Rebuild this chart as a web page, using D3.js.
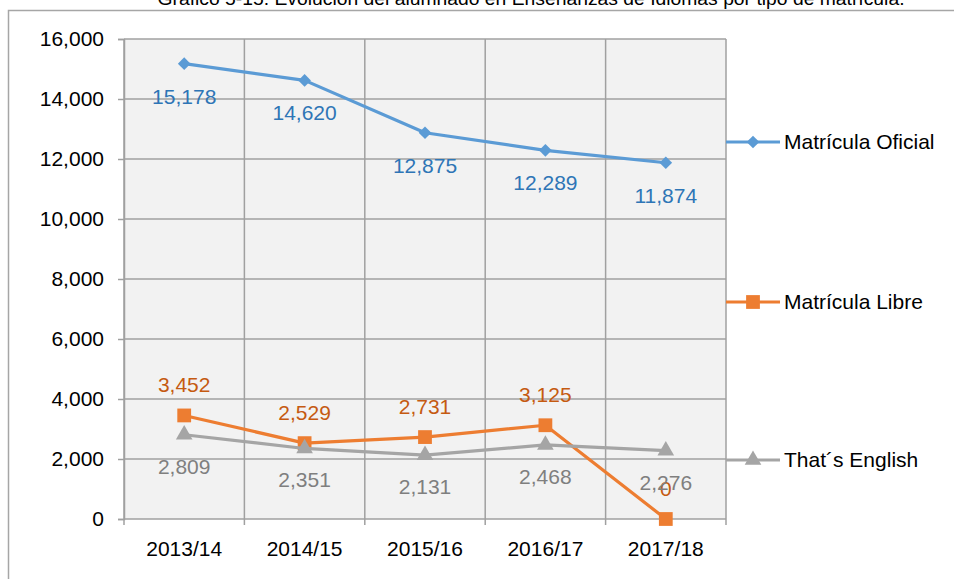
<!DOCTYPE html>
<html>
<head>
<meta charset="utf-8">
<script src="https://cdn.jsdelivr.net/npm/d3@7"></script>
<style>
  body { margin: 0; background: #fff; }
  text { font-family: Arial, "Liberation Sans", sans-serif; }
</style>
</head>
<body>
<div id="chart"></div>
<script>
// Data
const years = ['2013/14', '2014/15', '2015/16', '2016/17', '2017/18'];
const oficial = [15178, 14620, 12875, 12289, 11874];
const libre = [3452, 2529, 2731, 3125, 0];
const english = [2809, 2351, 2131, 2468, 2276];
const yTicks = [0, 2000, 4000, 6000, 8000, 10000, 12000, 14000, 16000];

// diamond = square turned by 45 degrees
const series = [
    {name: 'Matrícula Oficial', values: oficial, color: '#5b9bd5', label: '#2e75b6', shape: d3.symbolSquare, size: 80, rot: 45, dy: 33},
    {name: 'Matrícula Libre', values: libre, color: '#ed7d31', label: '#c55a11', shape: d3.symbolSquare, size: 190, rot: 0, dy: -30},
    {name: 'That´s English', values: english, color: '#a5a5a5', label: '#7f7f7f', shape: d3.symbolTriangle, size: 120, rot: 0, dy: 32}
];
const legendY = [142, 302, 460];

const width = 954, height = 579;
const fontSize = 21;
const svg = d3.select('#chart').append('svg')
    .attr('width', width)
    .attr('height', height);

// title, cut off at the top of the picture
svg.append('text')
    .attr('x', 531)
    .attr('y', 5)
    .attr('text-anchor', 'middle')
    .attr('font-size', 18)
    .attr('textLength', 747)
    .attr('lengthAdjust', 'spacingAndGlyphs')
    .attr('fill', '#000')
    .text('Gráfico 5-15. Evolución del alumnado en Enseñanzas de Idiomas por tipo de matrícula.');

// chart frame
svg.append('rect')
    .attr('x', 8.5).attr('y', 10.5)
    .attr('width', 1000).attr('height', 700)
    .attr('fill', 'none')
    .attr('stroke', '#a6a6a6')
    .attr('stroke-width', 1.5);

const x = d3.scaleBand().domain(years).range([124, 726]);
const y = d3.scaleLinear().domain([0, 16000]).range([519, 39]);

// plot background
svg.append('rect')
    .attr('x', 124).attr('y', 39)
    .attr('width', 602).attr('height', 480)
    .attr('fill', '#f2f2f2');

const gridColor = '#a0a0a0';

// horizontal grid + y axis
const yAxis = svg.append('g')
    .attr('transform', 'translate(124,0)')
    .call(d3.axisLeft(y).tickValues(yTicks).tickSize(6).tickPadding(14).tickFormat(d3.format(',')));
yAxis.select('.domain').attr('stroke', gridColor).attr('stroke-width', 1.5);
yAxis.selectAll('.tick line').attr('stroke', gridColor).attr('stroke-width', 1.5);
yAxis.selectAll('.tick text').attr('font-size', fontSize).attr('fill', '#000').attr('font-family', 'Arial, "Liberation Sans", sans-serif');

svg.append('g').selectAll('line')
    .data(yTicks)
    .join('line')
    .attr('x1', 124).attr('x2', 726)
    .attr('y1', d => y(d)).attr('y2', d => y(d))
    .attr('stroke', gridColor)
    .attr('stroke-width', 1.5);

// vertical grid at category boundaries
const bounds = years.map(d => x(d)).concat([x.range()[1]]);
svg.append('g').selectAll('line')
    .data(bounds)
    .join('line')
    .attr('x1', d => d).attr('x2', d => d)
    .attr('y1', 39).attr('y2', 525)
    .attr('stroke', gridColor)
    .attr('stroke-width', 1.5);

// x axis labels
svg.append('g').selectAll('text')
    .data(years)
    .join('text')
    .attr('x', d => x(d) + x.bandwidth() / 2)
    .attr('y', 556)
    .attr('text-anchor', 'middle')
    .attr('font-size', fontSize)
    .attr('fill', '#000')
    .text(d => d);

const cx = d => x(d) + x.bandwidth() / 2;
const line = d3.line()
    .x((d, i) => cx(years[i]))
    .y(d => y(d));

series.forEach((s, k) => {
    const g = svg.append('g');
    g.append('path')
        .datum(s.values)
        .attr('d', line)
        .attr('fill', 'none')
        .attr('stroke', s.color)
        .attr('stroke-width', 3.2)
        .attr('stroke-linejoin', 'round');
    g.selectAll('path.marker')
        .data(s.values)
        .join('path')
        .classed('marker', true)
        .attr('d', d3.symbol().type(s.shape).size(s.size))
        .attr('transform', (d, i) => `translate(${cx(years[i])},${y(d)}) rotate(${s.rot})`)
        .attr('fill', s.color);

    // legend
    const ly = legendY[k];
    g.append('line')
        .attr('x1', 726).attr('x2', 780)
        .attr('y1', ly).attr('y2', ly)
        .attr('stroke', s.color)
        .attr('stroke-width', 3.2);
    g.append('path')
        .attr('d', d3.symbol().type(s.shape).size(s.size))
        .attr('transform', `translate(753,${ly}) rotate(${s.rot})`)
        .attr('fill', s.color);
    g.append('text')
        .attr('x', 784)
        .attr('y', ly + 7)
        .attr('font-size', fontSize)
        .attr('fill', '#000')
        .text(s.name);
});

// data labels drawn last so they sit on top
series.forEach(s => {
    svg.append('g').selectAll('text')
        .data(s.values)
        .join('text')
        .attr('x', (d, i) => cx(years[i]))
        .attr('y', d => y(d) + s.dy + 7)
        .attr('text-anchor', 'middle')
        .attr('font-size', fontSize)
        .attr('fill', s.label)
        .text(d => d3.format(',')(d));
});
</script>
</body>
</html>
